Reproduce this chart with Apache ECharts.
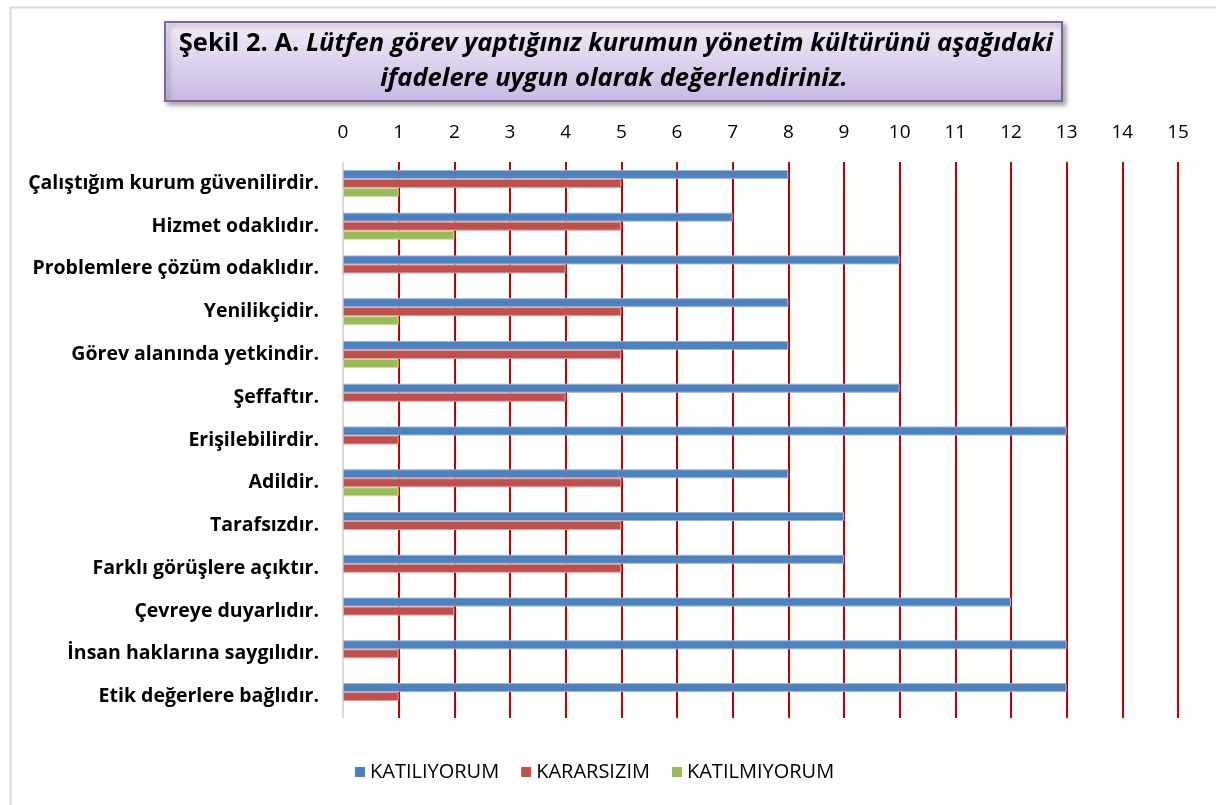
<!DOCTYPE html>
<html>
<head>
<meta charset="utf-8">
<script src="https://cdn.jsdelivr.net/npm/echarts@6/dist/echarts.min.js"></script>
<style>
html,body{margin:0;padding:0;background:#fff;}
#chart{width:1216px;height:805px;}
</style>
</head>
<body>
<div id="chart"></div>
<script>
const categories = [
  "Çalıştığım kurum güvenilirdir.",
  "Hizmet odaklıdır.",
  "Problemlere çözüm odaklıdır.",
  "Yenilikçidir.",
  "Görev alanında yetkindir.",
  "Şeffaftır.",
  "Erişilebilirdir.",
  "Adildir.",
  "Tarafsızdır.",
  "Farklı görüşlere açıktır.",
  "Çevreye duyarlıdır.",
  "İnsan haklarına saygılıdır.",
  "Etik değerlere bağlıdır."
];
const katiliyorum = [8, 7, 10, 8, 8, 10, 13, 8, 9, 9, 12, 13, 13];
const kararsizim = [5, 5, 4, 5, 5, 4, 1, 5, 5, 5, 2, 1, 1];
const katilmiyorum = [1, 2, 0, 1, 1, 0, 0, 1, 0, 0, 0, 0, 0];
const seriesNames = ["KATILIYORUM", "KARARSIZIM", "KATILMIYORUM"];
const titleBold = "Şekil 2. A. ";
const titleLine1 = "Lütfen görev yaptığınız kurumun yönetim kültürünü aşağıdaki";
const titleLine2 = "ifadelere uygun olarak değerlendiriniz.";

const FONT = "'Open Sans', sans-serif";
const chart = echarts.init(document.getElementById('chart'));
const gridColors = ['#d9d9d9'];
for (let i = 1; i <= 15; i++) gridColors.push('#c00000');

function barSeries(name, data, color, border) {
  return {
    name: name,
    type: 'bar',
    data: data.map(v => v === 0 ? null : v),
    barWidth: 9,
    barGap: '0%',
    itemStyle: { color: color, borderColor: border, borderWidth: 1 },
    emphasis: { disabled: true }
  };
}

chart.setOption({
  animation: false,
  backgroundColor: '#fff',
  textStyle: { fontFamily: FONT },
  grid: { left: 343, right: 38, top: 162, bottom: 87, containLabel: false },
  xAxis: {
    type: 'value',
    position: 'top',
    min: 0, max: 15, interval: 1,
    axisLine: { show: false },
    axisTick: { show: false },
    axisLabel: { color: '#000', fontSize: 19, margin: 20, fontFamily: FONT },
    splitLine: { show: true, lineStyle: { color: gridColors, width: 2 } }
  },
  yAxis: {
    type: 'category',
    inverse: true,
    data: categories,
    axisLine: { show: false },
    axisTick: { show: false },
    axisLabel: { color: '#000', fontSize: 19.5, fontWeight: 'bold', margin: 24, fontFamily: FONT }
  },
  legend: {
    bottom: 18,
    left: 350,
    icon: 'rect',
    itemWidth: 10,
    itemHeight: 10,
    itemGap: 22,
    textStyle: { color: '#000', fontSize: 20, fontFamily: FONT },
    data: seriesNames.map((n, i) => ({
      name: n,
      itemStyle: { borderWidth: 0, color: ['#4f81bd', '#c0504d', '#9bbb59'][i] }
    }))
  },
  series: [
    barSeries(seriesNames[0], katiliyorum, '#4f81bd', '#9db5d8'),
    barSeries(seriesNames[1], kararsizim, '#c0504d', '#dda09e'),
    barSeries(seriesNames[2], katilmiyorum, '#9bbb59', '#c8dba8')
  ],
  graphic: [
    {
      type: 'rect',
      left: 8, top: 5,
      shape: { width: 1230, height: 820 },
      style: { fill: 'none', stroke: '#d9d9d9', lineWidth: 2 },
      silent: true
    },
    {
      type: 'rect',
      left: 164, top: 21,
      shape: { width: 897, height: 79 },
      style: {
        fill: new echarts.graphic.LinearGradient(0, 0, 0, 1, [
          { offset: 0, color: '#f1ecf8' },
          { offset: 1, color: '#c9b9e2' }
        ]),
        stroke: '#8064a2',
        lineWidth: 2,
        shadowBlur: 5,
        shadowOffsetX: 3,
        shadowOffsetY: 3,
        shadowColor: 'rgba(0,0,0,0.35)'
      },
      z: 10
    },
    {
      type: 'text',
      x: 616, y: 44,
      z: 11,
      style: {
        text: '{b|' + titleBold + '}{i|' + titleLine1 + '}',
        align: 'center', verticalAlign: 'middle',
        rich: {
          b: { fontFamily: FONT, fontWeight: 'bold', fontSize: 25.5, fill: '#000' },
          i: { fontFamily: FONT, fontWeight: 'bold', fontStyle: 'italic', fontSize: 25.5, fill: '#000' }
        }
      }
    },
    {
      type: 'text',
      x: 614, y: 79,
      z: 11,
      style: {
        text: titleLine2,
        align: 'center', verticalAlign: 'middle',
        fontFamily: FONT, fontWeight: 'bold', fontStyle: 'italic', fontSize: 25.5, fill: '#000'
      }
    }
  ]
});
</script>
</body>
</html>
